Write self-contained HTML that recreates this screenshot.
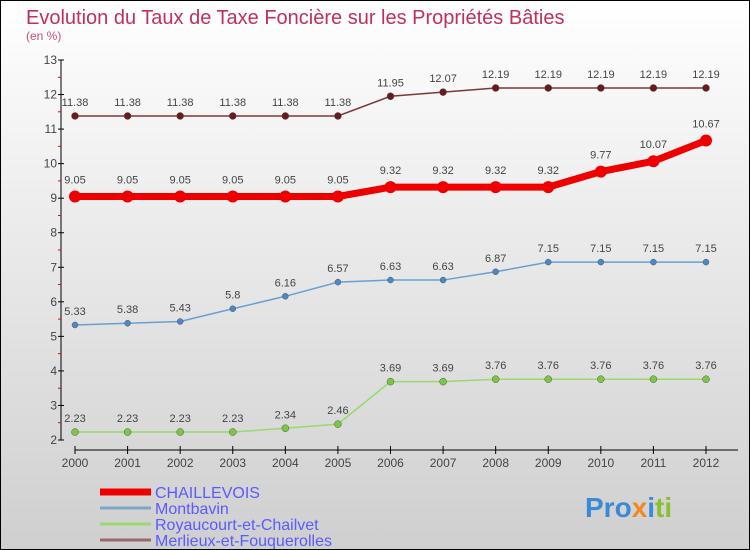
<!DOCTYPE html>
<html><head><meta charset="utf-8"><style>
body{margin:0}
#c{width:750px;height:550px;position:relative;overflow:hidden;box-sizing:border-box;border:1px solid #000;background:linear-gradient(#ffffff,#cfcfcf);font-family:"Liberation Sans",sans-serif}
</style></head><body>
<div id="c">
<svg id="s" width="750" height="550" style="position:absolute;left:-1px;top:-1px">
<text x="26" y="24" font-size="20" fill="#c0305a">Evolution du Taux de Taxe Foncière sur les Propriétés Bâties</text>
<text x="26" y="40" font-size="12" fill="#c0507a">(en %)</text>
<g id="axes"></g><g id="series"></g><g id="legend"></g>
<text x="585" y="517" font-size="28" font-weight="bold"><tspan fill="#3a8ad8">Pro</tspan><tspan fill="#f08a20">x</tspan><tspan fill="#3a8ad8">i</tspan><tspan fill="#8ac030">ti</tspan></text>
</svg>
</div>
<script>
const years=[2000,2001,2002,2003,2004,2005,2006,2007,2008,2009,2010,2011,2012];
const chaillevois=[9.05,9.05,9.05,9.05,9.05,9.05,9.32,9.32,9.32,9.32,9.77,10.07,10.67];
const montbavin=[5.33,5.38,5.43,5.8,6.16,6.57,6.63,6.63,6.87,7.15,7.15,7.15,7.15];
const royaucourt=[2.23,2.23,2.23,2.23,2.34,2.46,3.69,3.69,3.76,3.76,3.76,3.76,3.76];
const merlieux=[11.38,11.38,11.38,11.38,11.38,11.38,11.95,12.07,12.19,12.19,12.19,12.19,12.19];
const yTicks=[2,3,4,5,6,7,8,9,10,11,12,13];
const seriesNames=["CHAILLEVOIS","Montbavin","Royaucourt-et-Chailvet","Merlieux-et-Fouquerolles"];
const NS="http://www.w3.org/2000/svg";
function X(i){return 75+i*(706-75)/(years.length-1);}
function Y(v){return 440-(v-2)*(380/11);}
function mk(p,t,a){const e=document.createElementNS(NS,t);for(const k in a)e.setAttribute(k,a[k]);p.appendChild(e);return e;}
const ax=document.getElementById('axes');
let l=mk(ax,'line',{x1:61,y1:60,x2:61,y2:440,stroke:'#000'});

l=mk(ax,'line',{x1:75,y1:450,x2:738,y2:450,stroke:'#000'});

yTicks.forEach(v=>{
 mk(ax,'line',{x1:58,y1:Y(v),x2:64,y2:Y(v),stroke:'#000'});
 if(v<13)mk(ax,'line',{x1:58,y1:Y(v+0.5),x2:61,y2:Y(v+0.5),stroke:'#e00'});
 const t=mk(ax,'text',{x:57,y:Y(v)+4,'font-size':12,'text-anchor':'end',fill:'#444'});t.textContent=v;
 
});
years.forEach((y,i)=>{
 mk(ax,'line',{x1:X(i),y1:446,x2:X(i),y2:454,stroke:'#000'});
 const t=mk(ax,'text',{x:X(i),y:467,'font-size':12,'text-anchor':'middle',fill:'#444'});t.textContent=y;
 
});
const sg=document.getElementById('series');
const defs=[[chaillevois,'#ee0000',7,'#ee0000',6,'chaillevois'],[montbavin,'#6aa0d0',1.5,'#4a88c8',3,'montbavin'],[royaucourt,'#9ad870',1.5,'#7ac840',3.5,'royaucourt'],[merlieux,'#7a3838',1.5,'#6a1a1a',3.5,'merlieux']];
defs.forEach(([d,c,w,pc,r,n])=>{
 const p=mk(sg,'polyline',{points:d.map((v,i)=>X(i)+','+Y(v)).join(' '),fill:'none',stroke:c,'stroke-width':w});
 
 d.forEach((v,i)=>{
  const ci=mk(sg,'circle',{cx:X(i),cy:Y(v),r:r,fill:pc,stroke:r<5?'#555':'none','stroke-width':0.5});
  
  const t=mk(sg,'text',{x:X(i),y:Y(v)-(r>5?13:10),'font-size':11,'text-anchor':'middle',fill:'#444'});t.textContent=v;
  
 });
});
const lg=document.getElementById('legend');
defs.forEach(([d,c,w,pc,r,n],k)=>{
 const yy=492+k*16;
 const ln=mk(lg,'line',{x1:100,y1:yy,x2:151,y2:yy,stroke:k==0?'#ee0000':(k==1?'#7aa8c8':(k==2?'#9ad870':'#9a6a6a')),'stroke-width':k==0?7:3});
 
 const t=mk(lg,'text',{x:155,y:yy+6,'font-size':16,fill:'#5a5aff'});t.textContent=seriesNames[k];
 
});
</script>
</body></html>
